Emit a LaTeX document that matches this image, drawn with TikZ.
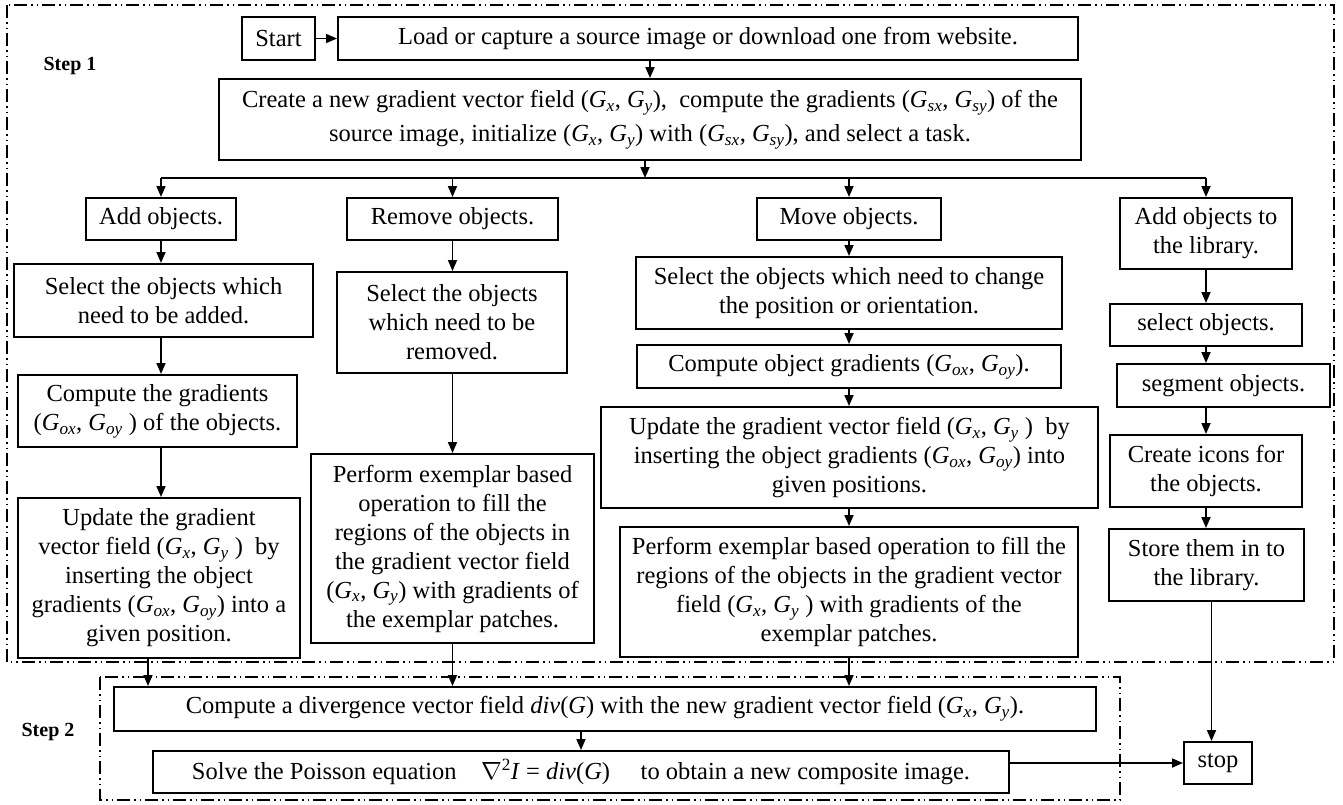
\documentclass[tikz,border=0pt]{standalone}
\usepackage{fontspec}
\setmainfont{Liberation Serif}
\usepackage{tikz}
\usetikzlibrary{arrows.meta, calc}
\newcommand{\Gs}[1]{\textit{G}\textsubscript{\textit{#1}}}
\tikzset{
  box/.style={draw, line width=2pt, align=center, inner sep=0pt, font=\fontsize{24.5}{29}\selectfont},
  arr/.style={line width=1.7pt, -{Triangle[length=11pt, width=9pt]}},
  link/.style={line width=1.7pt},
  frame/.style={line width=1.4pt, dash pattern=on 13pt off 4pt on 1.5pt off 4pt on 1.5pt off 4pt},
  steplabel/.style={font=\fontsize{20}{24}\selectfont\bfseries}
}
\begin{document}
\begin{tikzpicture}[x=1pt, y=-1pt]
	\useasboundingbox (0,0) rectangle (1343,804);
	\draw[frame] (7,5) rectangle (1334,662);
	\draw[frame] (100,677) rectangle (1120,800);
	\node[steplabel] (step1) at (70,66) {Step 1};
	\node[steplabel] (step2) at (48,732) {Step 2};

	\node[box, minimum width=73pt, minimum height=43pt] (start) at (278.5,38.5) {Start};
	\node[box, minimum width=740pt, minimum height=43pt] (load) at (708,38.5) {Load or capture a source image or download one from website.};
	\node[box, minimum width=862pt, minimum height=81pt, font=\fontsize{24.5}{34}\selectfont] (create) at (650,119.5)
		{Create a new gradient vector field (\Gs{x}, \Gs{y}),\ \ compute the gradients (\Gs{sx}, \Gs{sy}) of the\\
		 source image, initialize (\Gs{x}, \Gs{y}) with (\Gs{sx}, \Gs{sy}), and select a task.};

	% the four tasks
	\node[box, minimum width=150pt, minimum height=42pt] (addo) at (161,219) {Add objects.};
	\node[box, minimum width=211pt, minimum height=42pt] (remo) at (452.5,219) {Remove objects.};
	\node[box, minimum width=184pt, minimum height=42pt] (movo) at (849,219) {Move objects.};
	\node[box, minimum width=172pt, minimum height=71pt] (libo) at (1206,233.5) {Add objects to\\ the library.};

	\node[box, minimum width=299pt, minimum height=73pt] (selA) at (163.5,300.5) {Select the objects which\\ need to be added.};
	\node[box, minimum width=279pt, minimum height=72pt] (cmpA) at (157.5,411) {Compute the gradients\\ (\Gs{ox}, \Gs{oy} ) of the objects.};
	\node[box, minimum width=282pt, minimum height=160pt] (updA) at (159,578)
		{Update the gradient\\ vector field (\Gs{x}, \Gs{y} )\ \ by\\ inserting the object\\ gradients (\Gs{ox}, \Gs{oy}) into a\\ given position.};

	\node[box, minimum width=230pt, minimum height=101pt] (selR) at (452,322.5) {Select the objects\\ which need to be\\ removed.};
	\node[box, minimum width=283pt, minimum height=189pt] (perR) at (452.5,548.5)
		{Perform exemplar based\\ operation to fill the\\ regions of the objects in\\ the gradient vector field\\ (\Gs{x}, \Gs{y}) with gradients of\\ the exemplar patches.};

	\node[box, minimum width=426pt, minimum height=72pt] (selM) at (849,293) {Select the objects which need to change\\ the position or orientation.};
	\node[box, minimum width=424pt, minimum height=43pt] (cmpM) at (849,366.5) {Compute object gradients (\Gs{ox}, \Gs{oy}).};
	\node[box, minimum width=497pt, minimum height=101pt] (updM) at (849.5,457.5)
		{Update the gradient vector field (\Gs{x}, \Gs{y} )\ \ by\\ inserting the object gradients (\Gs{ox}, \Gs{oy}) into\\ given positions.};
	\node[box, minimum width=458pt, minimum height=130pt] (perM) at (849,592)
		{Perform exemplar based operation to fill the\\ regions of the objects in the gradient vector\\ field (\Gs{x}, \Gs{y} ) with gradients of the\\ exemplar patches.};

	\node[box, minimum width=192pt, minimum height=42pt] (selL) at (1206,325) {select objects.};
	\node[box, minimum width=213pt, minimum height=43pt] (segL) at (1223.5,385.5) {segment objects.};
	\node[box, minimum width=192pt, minimum height=72pt] (icoL) at (1206,471) {Create icons for\\ the objects.};
	\node[box, minimum width=195pt, minimum height=72pt] (stoL) at (1206.5,565) {Store them in to\\ the library.};

	% step 2
	\node[box, minimum width=982pt, minimum height=44pt] (div) at (605,709)
		{Compute a divergence vector field \textit{div}(\textit{G}) with the new gradient vector field (\Gs{x}, \Gs{y}).};
	\node[box, minimum width=856pt, minimum height=42pt] (solve) at (581,772)
		{Solve the Poisson equation\quad $\nabla$\textsuperscript{2}\textit{I} = \textit{div}(\textit{G})\quad\ to obtain a new composite image.};
	\node[box, minimum width=68pt, minimum height=42pt] (stop) at (1218,763) {stop};

	\coordinate (fork) at (645,178);
	\draw[arr] (start) -- (load);
	\draw[arr] (load.south -| create.north) -- (create.north);
	\draw[arr] (create.south -| fork) -- (fork);
	\draw[link] (addo.north |- fork) -- (libo.north |- fork);
	\foreach \t in {addo, remo, movo, libo}
		\draw[arr] (\t.north |- fork) -- (\t.north);

	\draw[arr] (addo.south) -- (addo.south |- selA.north);
	\draw[arr] (addo.south |- selA.south) -- (addo.south |- cmpA.north);
	\draw[arr] (addo.south |- cmpA.south) -- (addo.south |- updA.north);
	\draw[arr] ([xshift=-11pt]updA.south) -- ([xshift=-11pt]updA.south |- div.north);

	\draw[arr] (remo.south) -- (remo.south |- selR.north);
	\draw[arr] (remo.south |- selR.south) -- (remo.south |- perR.north);
	\draw[arr] (remo.south |- perR.south) -- (remo.south |- div.north);

	\draw[arr] (movo.south) -- (movo.south |- selM.north);
	\draw[arr] (movo.south |- selM.south) -- (movo.south |- cmpM.north);
	\draw[arr] (movo.south |- cmpM.south) -- (movo.south |- updM.north);
	\draw[arr] (movo.south |- updM.south) -- (movo.south |- perM.north);
	\draw[arr] (movo.south |- perM.south) -- (movo.south |- div.north);

	\draw[arr] (libo.south) -- (libo.south |- selL.north);
	\draw[arr] (libo.south |- selL.south) -- (libo.south |- segL.north);
	\draw[arr] (libo.south |- segL.south) -- (libo.south |- icoL.north);
	\draw[arr] (libo.south |- icoL.south) -- (libo.south |- stoL.north);
	\draw[arr] ([xshift=5pt]stoL.south) -- ([xshift=5pt]stoL.south |- stop.north);

	\draw[arr] (solve.north |- div.south) -- (solve.north);
	\draw[arr] (solve.east |- stop.west) -- (stop.west);
\end{tikzpicture}
\end{document}
